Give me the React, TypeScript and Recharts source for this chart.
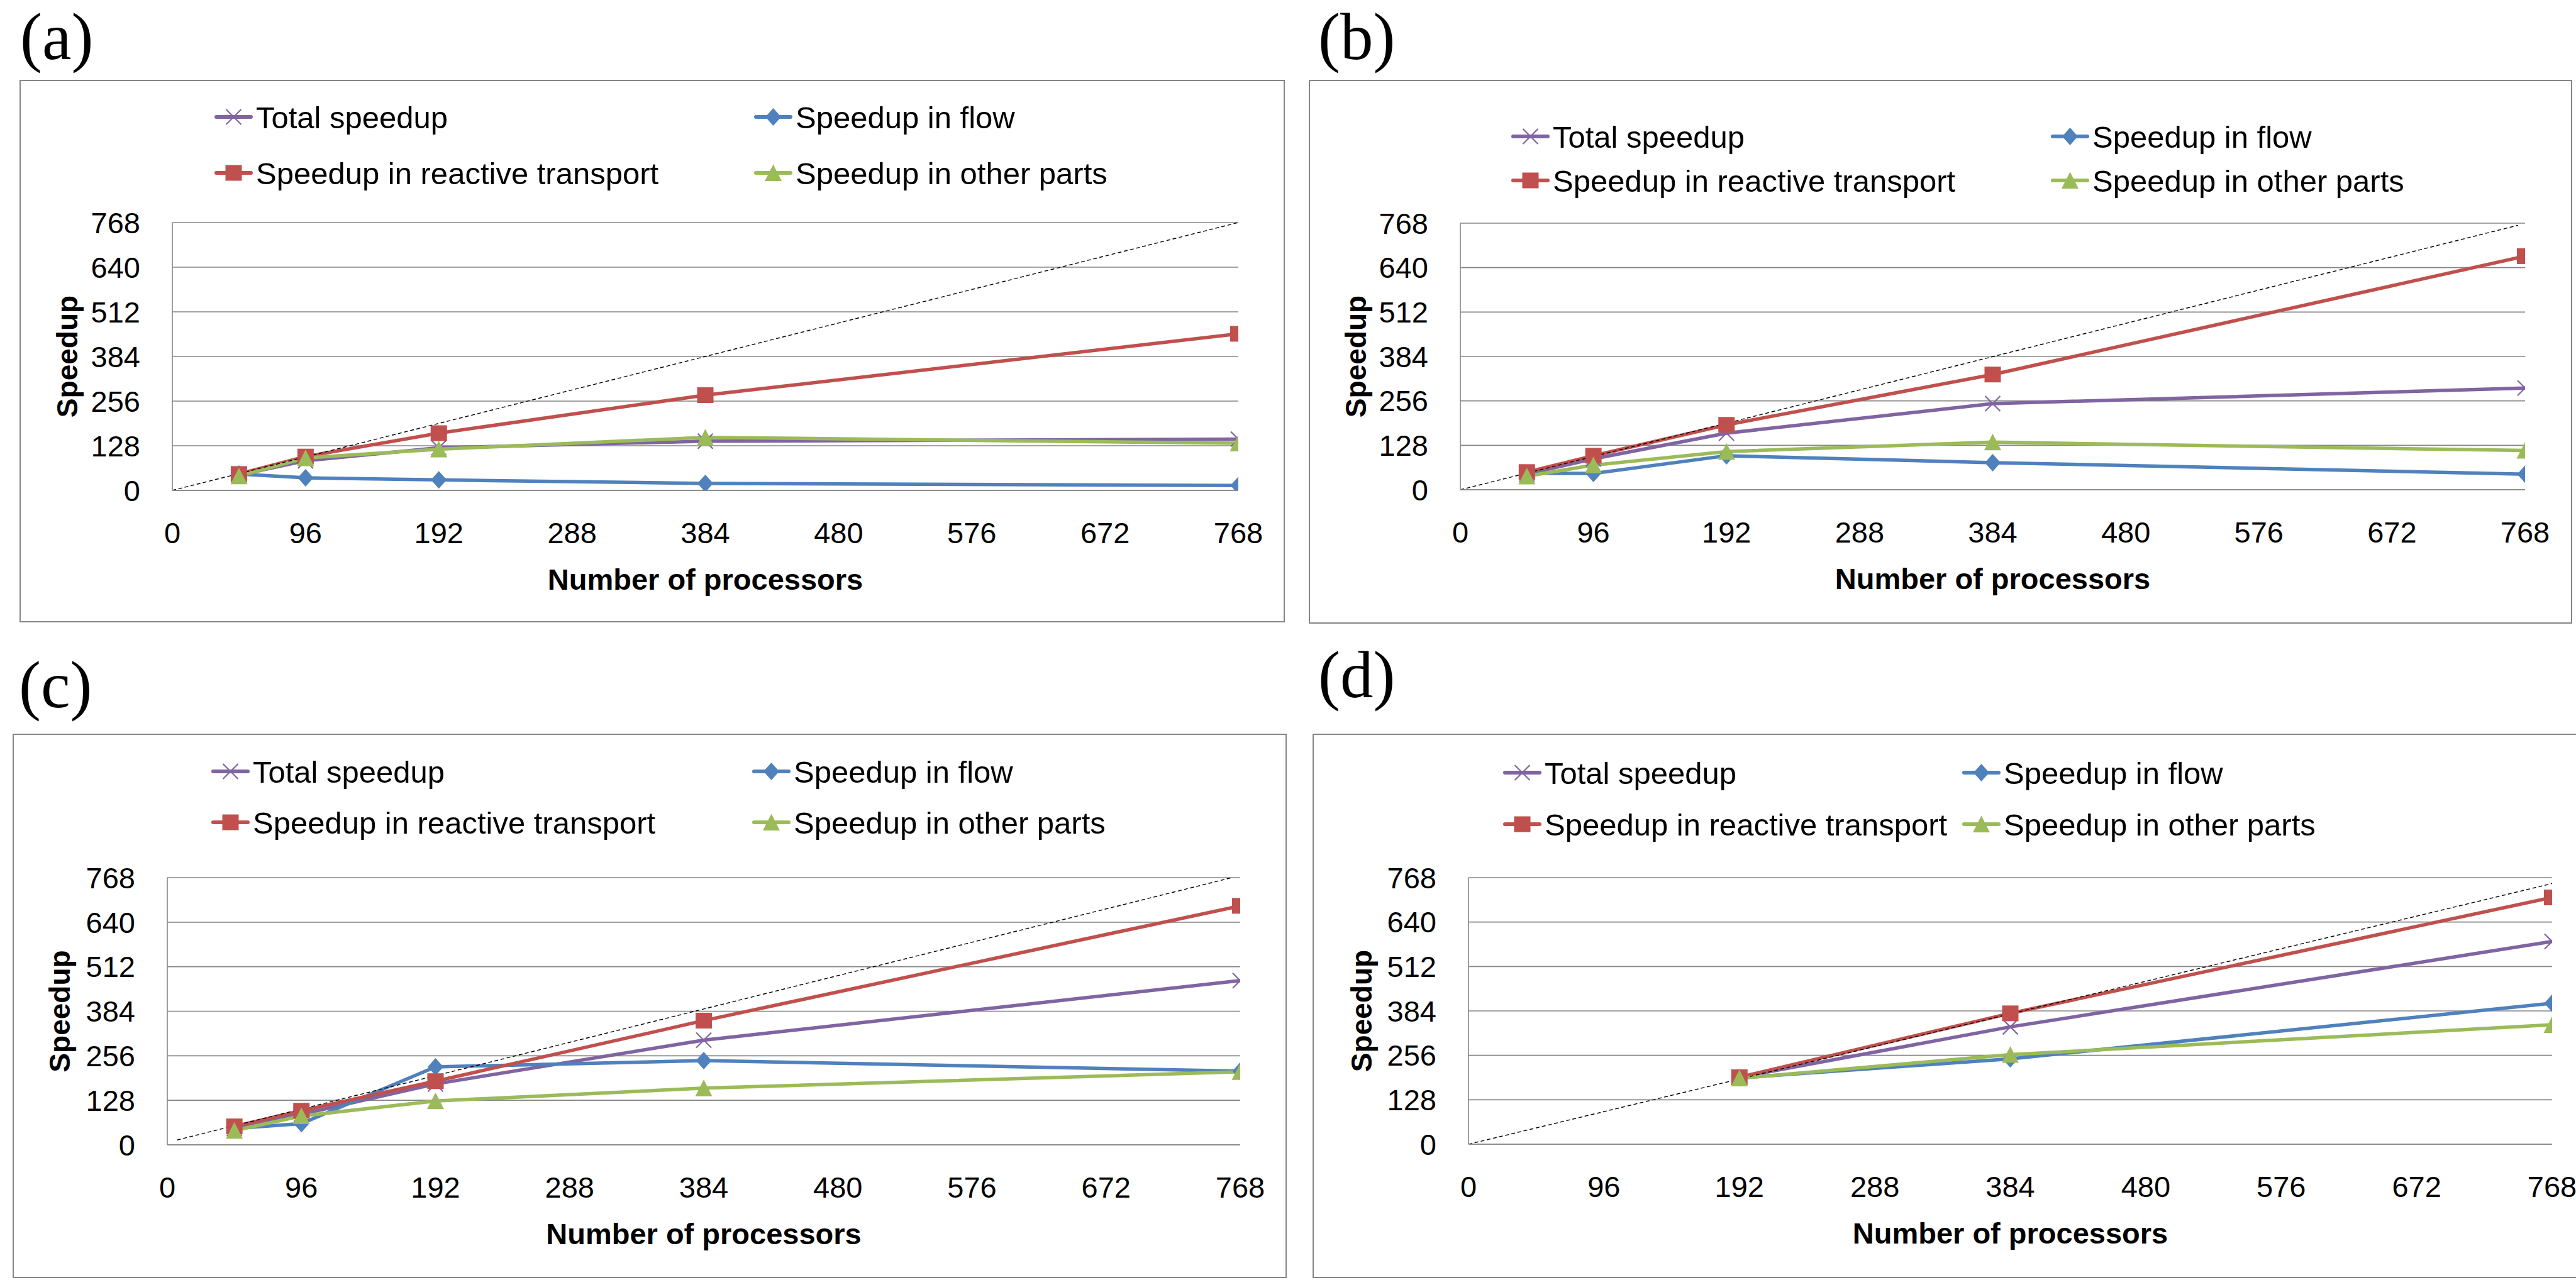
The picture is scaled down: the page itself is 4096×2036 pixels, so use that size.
import React from "react";
import { LineChart, Line, XAxis, YAxis, CartesianGrid, Label } from "recharts";

// axis ticks shared by the four panels
const xTicks = [0, 96, 192, 288, 384, 480, 576, 672, 768];
const yTicks = [0, 128, 256, 384, 512, 640, 768];

const procsABC = [48, 96, 192, 384, 768];
const procsD = [192, 384, 768];

// (a)
const totalA = [44, 85, 122, 141, 147];
const flowA = [47, 36, 30, 20, 14];
const reactiveA = [47, 97, 164, 273, 449];
const otherA = [41, 93, 118, 152, 135];
const idealXA = [0, 768];
const idealYA = [0, 768];

// (b)
const totalB = [45, 89, 163, 248, 293];
const flowB = [47, 47, 98, 78, 45];
const reactiveB = [51, 98, 187, 332, 673];
const otherB = [39, 71, 110, 137, 113];
const idealXB = [0, 763];
const idealYB = [0, 762];

// (c)
const totalC = [47, 88, 175, 301, 472];
const flowC = [47, 61, 224, 242, 212];
const reactiveC = [53, 98, 183, 357, 687];
const otherC = [41, 83, 126, 163, 210];
const idealXC = [7, 762];
const idealYC = [14, 768];

// (d)
const totalD = [193, 338, 584];
const flowD = [191, 246, 406];
const reactiveD = [193, 377, 711];
const otherD = [190, 258, 344];
const idealXD = [0, 768];
const idealYD = [0, 751];

const PURPLE = "#8064A2";
const BLUE = "#4F81BD";
const RED = "#C0504D";
const GREEN = "#9BBB59";
const GRID = "#868686";
const FONT = "'Liberation Sans', Arial, sans-serif";

type Shape = "x" | "diamond" | "square" | "triangle";

const seriesInfo: { key: string; name: string; color: string; shape: Shape }[] = [
  { key: "total", name: "Total speedup", color: PURPLE, shape: "x" },
  { key: "flow", name: "Speedup in flow", color: BLUE, shape: "diamond" },
  { key: "reactive", name: "Speedup in reactive transport", color: RED, shape: "square" },
  { key: "other", name: "Speedup in other parts", color: GREEN, shape: "triangle" },
];

function Marker({ shape, cx, cy, color }: { shape: Shape; cx: number; cy: number; color: string }) {
  if (shape === "square")
    return <rect x={cx - 13} y={cy - 12.5} width={26} height={25} fill={color} />;
  if (shape === "diamond")
    return (
      <path
        d={`M${cx},${cy - 14}L${cx + 12.5},${cy}L${cx},${cy + 14}L${cx - 12.5},${cy}Z`}
        fill={color}
      />
    );
  if (shape === "triangle")
    return (
      <path
        d={`M${cx},${cy - 13.5}L${cx + 13.5},${cy + 13}L${cx - 13.5},${cy + 13}Z`}
        fill={color}
      />
    );
  return (
    <path
      d={`M${cx - 12},${cy - 12}L${cx + 12},${cy + 12}M${cx - 12},${cy + 12}L${cx + 12},${cy - 12}`}
      stroke={color}
      strokeWidth={2.2}
      fill="none"
    />
  );
}

type Layout = {
  box: { left: number; top: number; width: number; height: number };
  plot: { left: number; top: number; right: number; bottom: number };
  label: { x: number; y: number };
  rows: number[];
  cols: number[];
  speedupX: number;
};

const layoutA: Layout = {
  box: { left: 31, top: 127, width: 2012, height: 863 },
  plot: { left: 274, top: 354, right: 1969, bottom: 780 },
  label: { x: 32, y: 94 },
  rows: [186, 275],
  cols: [341, 1199],
  speedupX: 107,
};
const layoutB: Layout = {
  box: { left: 2081, top: 127, width: 2009, height: 865 },
  plot: { left: 2322, top: 355, right: 4015, bottom: 779 },
  label: { x: 2096, y: 94 },
  rows: [217, 287],
  cols: [2403, 3261],
  speedupX: 2156,
};
const layoutC: Layout = {
  box: { left: 20, top: 1167, width: 2026, height: 866 },
  plot: { left: 266, top: 1396, right: 1972, bottom: 1821 },
  label: { x: 30, y: 1125 },
  rows: [1227, 1308],
  cols: [336, 1196],
  speedupX: 95,
};
const layoutD: Layout = {
  box: { left: 2087, top: 1167, width: 2030, height: 866 },
  plot: { left: 2335, top: 1396, right: 4058, bottom: 1820 },
  label: { x: 2096, y: 1109 },
  rows: [1229, 1311],
  cols: [2390, 3120],
  speedupX: 2165,
};

function buildRows(procs: number[], total: number[], flow: number[], reactive: number[], other: number[]) {
  return procs.map((x, i) => ({ x, total: total[i], flow: flow[i], reactive: reactive[i], other: other[i] }));
}

const panels = [
  { tag: "(a)", layout: layoutA, rows: buildRows(procsABC, totalA, flowA, reactiveA, otherA), ideal: idealXA.map((x, i) => ({ x, y: idealYA[i] })) },
  { tag: "(b)", layout: layoutB, rows: buildRows(procsABC, totalB, flowB, reactiveB, otherB), ideal: idealXB.map((x, i) => ({ x, y: idealYB[i] })) },
  { tag: "(c)", layout: layoutC, rows: buildRows(procsABC, totalC, flowC, reactiveC, otherC), ideal: idealXC.map((x, i) => ({ x, y: idealYC[i] })) },
  { tag: "(d)", layout: layoutD, rows: buildRows(procsD, totalD, flowD, reactiveD, otherD), ideal: idealXD.map((x, i) => ({ x, y: idealYD[i] })) },
];

function Panel({ layout, rows, ideal }: { layout: Layout; rows: any[]; ideal: any[] }) {
  const { box, plot } = layout;
  const yAxisWidth = plot.left - box.left;
  const xAxisHeight = box.top + box.height - plot.bottom;
  const margin = { top: plot.top - box.top, right: box.left + box.width - plot.right, bottom: 0, left: 0 };
  const midX = (plot.left + plot.right) / 2 - box.left;
  const midY = (plot.top + plot.bottom) / 2 - box.top;
  const tick = { fill: "#000", fontSize: 47, fontFamily: FONT };

  return (
    <div style={{ position: "absolute", left: box.left, top: box.top, width: box.width, height: box.height }}>
      <div
        style={{
          position: "absolute",
          inset: 0,
          border: `2px solid ${GRID}`,
          boxSizing: "border-box",
        }}
      />
      <div style={{ position: "absolute", left: 0, top: 0 }}>
        <LineChart width={box.width} height={box.height} margin={margin}>
          <CartesianGrid vertical={false} stroke={GRID} strokeWidth={1.6} />
          <XAxis
            type="number"
            dataKey="x"
            domain={[0, 768]}
            ticks={xTicks}
            interval={0}
            allowDataOverflow
            height={xAxisHeight}
            tickLine={false}
            tickSize={0}
            tickMargin={51}
            axisLine={{ stroke: GRID, strokeWidth: 1.6 }}
            tick={tick}
          >
            <Label
              content={() => (
                <text
                  x={midX}
                  y={plot.bottom - box.top + 158}
                  textAnchor="middle"
                  fontFamily={FONT}
                  fontWeight="bold"
                  fontSize={47}
                  fill="#000"
                >
                  Number of processors
                </text>
              )}
            />
          </XAxis>
          <YAxis
            type="number"
            domain={[0, 768]}
            ticks={yTicks}
            interval={0}
            allowDataOverflow
            width={yAxisWidth}
            tickLine={false}
            tickSize={0}
            tickMargin={51}
            axisLine={{ stroke: GRID, strokeWidth: 1.6 }}
            tick={tick}
          >
            <Label
              content={() => (
                <text
                  x={layout.speedupX - box.left}
                  y={midY}
                  transform={`rotate(-90 ${layout.speedupX - box.left} ${midY})`}
                  textAnchor="middle"
                  dominantBaseline="central"
                  fontFamily={FONT}
                  fontWeight="bold"
                  fontSize={46}
                  fill="#000"
                >
                  Speedup
                </text>
              )}
            />
          </YAxis>
          {seriesInfo.map((s) => (
            <Line
              key={s.key}
              data={rows}
              dataKey={s.key}
              name={s.name}
              type="linear"
              stroke={s.color}
              strokeWidth={5.5}
              strokeLinejoin="round"
              dot={(p: any) => (
                <Marker key={`${s.key}-${p.index}`} shape={s.shape} cx={p.cx} cy={p.cy} color={s.color} />
              )}
              activeDot={false}
              isAnimationActive={false}
            />
          ))}
          <Line
            data={ideal}
            dataKey="y"
            type="linear"
            stroke="#000"
            strokeWidth={1.4}
            strokeDasharray="6 4"
            dot={false}
            activeDot={false}
            isAnimationActive={false}
          />
        </LineChart>
      </div>
      <svg
        width={box.width}
        height={box.height}
        style={{ position: "absolute", left: 0, top: 0, pointerEvents: "none" }}
      >
        {seriesInfo.map((s, i) => {
          const lx = layout.cols[i % 2] - box.left;
          const ly = layout.rows[Math.floor(i / 2)] - box.top;
          return (
            <g key={s.key}>
              <line x1={lx + 3} y1={ly} x2={lx + 58} y2={ly} stroke={s.color} strokeWidth={6} strokeLinecap="round" />
              <Marker shape={s.shape} cx={lx + 30.5} cy={ly} color={s.color} />
              <text x={lx + 66} y={ly + 17.5} fontFamily={FONT} fontSize={49} fill="#000">
                {s.name}
              </text>
            </g>
          );
        })}
      </svg>
    </div>
  );
}

export default function App() {
  return (
    <div
      style={{
        position: "absolute",
        left: 0,
        top: 0,
        width: 4096,
        height: 2036,
        background: "#fff",
        overflow: "hidden",
      }}
    >
      <svg width={4096} height={2036} style={{ position: "absolute", left: 0, top: 0 }}>
        {panels.map((p) => (
          <text
            key={p.tag}
            x={p.layout.label.x}
            y={p.layout.label.y}
            fontFamily="'Liberation Serif', 'Times New Roman', serif"
            fontSize={105}
            fill="#000"
          >
            {p.tag}
          </text>
        ))}
      </svg>
      {panels.map((p) => (
        <Panel key={p.tag} layout={p.layout} rows={p.rows} ideal={p.ideal} />
      ))}
    </div>
  );
}
